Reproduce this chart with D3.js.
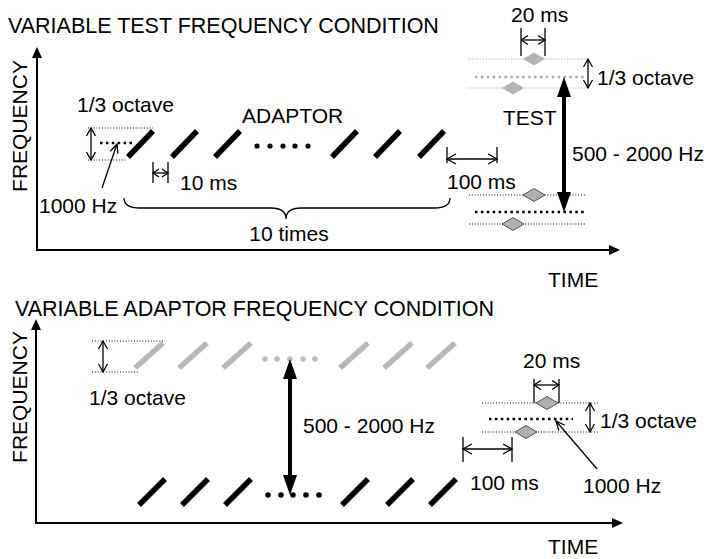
<!DOCTYPE html>
<html>
<head>
<meta charset="utf-8">
<script src="https://cdn.jsdelivr.net/npm/d3@7"></script>
<style>
  body { margin: 0; background: #fff; }
  text { font-family: "Liberation Sans", Arial, sans-serif; font-size: 21px; fill: #000; }
</style>
</head>
<body>
<script>
// >-----------------< Data >-------------------<
// time = offset from the frequency axis, freq = offset above the time axis (schematic units)
const titles = ["VARIABLE TEST FREQUENCY CONDITION", "VARIABLE ADAPTOR FREQUENCY CONDITION"];

// top panel: fixed 1000 Hz adaptor, variable test
const topBarOnsets = [89, 133, 176, 293, 336, 380];
const topBarDots = [220, 233, 246, 258, 271];
const topBarRange = [93, 119];          // low / high freq of each sweep
const topBarDotFreq = 104;
const topBand = [90, 107, 122];         // -1/6 oct, 1000 Hz, +1/6 oct
const topTestHigh = [162, 173, 191];    // test band at 2000 Hz end
const topTestLow = [26, 38, 55];        // test band at 500 Hz end
const topProbeTimes = [476, 497];

// bottom panel: variable adaptor, fixed 1000 Hz test
const botGrayOnsets = [97, 141, 185, 302, 346, 389];
const botGrayDots = [229, 241, 254, 267, 279];
const botGrayRange = [155, 180];
const botGrayDotFreq = 164;
const botGrayBand = [151, 182];
const botBlackOnsets = [101, 144, 187, 304, 349, 392];
const botBlackDots = [232, 245, 257, 270, 283];
const botBlackRange = [18, 44];
const botBlackDotFreq = 28;
const botTest = [91, 104, 120];
const botProbeTimes = [490, 511];

// >-----------------< Helpers >-------------------<
const ink = "#000";
const svg = d3.select("body").append("svg").attr("width", 705).attr("height", 559);

function seg(g, x1, y1, x2, y2, w, color, dash) {
  return g.append("line")
    .attr("x1", x1).attr("y1", y1).attr("x2", x2).attr("y2", y2)
    .attr("stroke", color || ink)
    .attr("stroke-width", w || 1.3)
    .attr("stroke-dasharray", dash || null);
}

function head(g, tx, ty, fx, fy, len, half, filled) {
  const d = Math.hypot(tx - fx, ty - fy), ux = (tx - fx) / d, uy = (ty - fy) / d;
  const bx = tx - ux * len, by = ty - uy * len;
  const pts = [[bx - uy * half, by + ux * half], [tx, ty], [bx + uy * half, by - ux * half]];
  if (filled) {
    g.append("path").attr("d", "M" + pts.join("L") + "Z").attr("fill", ink);
  } else {
    g.append("path").attr("d", "M" + pts.join("L"))
      .attr("fill", "none").attr("stroke", ink).attr("stroke-width", 1.3);
  }
}

function vArrow(g, x, y1, y2) {
  seg(g, x, y1, x, y2);
  head(g, x, y1, x, y2, 8, 4.5);
  head(g, x, y2, x, y1, 8, 4.5);
}

function span(g, x1, x2, y, tickA, tickB, len, half) {
  seg(g, x1, tickA, x1, tickB);
  seg(g, x2, tickA, x2, tickB);
  seg(g, x1, y, x2, y);
  head(g, x1, y, x2, y, len, half);
  head(g, x2, y, x1, y, len, half);
}

function bigArrow(g, x, y1, y2) {
  const s = Math.sign(y2 - y1);
  seg(g, x, y1 + s * 18, x, y2 - s * 18, 4);
  head(g, x, y1, x, y2, 20, 7, true);
  head(g, x, y2, x, y1, 20, 7, true);
}

function diamond(g, cx, cy, fill, stroke) {
  g.append("path")
    .attr("d", `M${cx - 11},${cy}L${cx},${cy - 6.5}L${cx + 11},${cy}L${cx},${cy + 6.5}Z`)
    .attr("fill", fill)
    .attr("stroke", stroke || "none")
    .attr("stroke-width", 0.8);
}

function label(g, x, y, s, anchor) {
  return g.append("text").attr("x", x).attr("y", y)
    .attr("text-anchor", anchor || "start").text(s);
}

function axes(g, x, y, tMax, fMax) {
  seg(g, x(0), y(0) + 1, x(0), y(fMax) + 9, 2);
  head(g, x(0), y(fMax), x(0), y(0), 11, 5, true);
  seg(g, x(0) - 1, y(0), x(tMax) - 9, y(0), 2);
  head(g, x(tMax), y(0), x(0), y(0), 11, 5, true);
}

function freqLabel(g, px, py) {
  g.append("text")
    .attr("transform", `translate(${px},${py}) rotate(-90)`)
    .attr("text-anchor", "middle")
    .text("FREQUENCY");
}

function dotted(g, x, y, f, t0, t1, color, bold) {
  seg(g, x(t0), y(f), x(t1), y(f), bold ? 2.5 : 1.1, color, bold ? "2.5 3.4" : "1 1.8");
}

function sweeps(g, x, y, onsets, range, dur, color) {
  onsets.forEach(t => seg(g, x(t + 2), y(range[0]), x(t + dur), y(range[1]), 5.5, color));
}

function dots(g, x, y, times, f, color, r) {
  g.selectAll(null).data(times).enter().append("circle")
    .attr("cx", d => x(d)).attr("cy", y(f)).attr("r", r).attr("fill", color);
}

// >-----------------< Top panel >-------------------<
const gt = svg.append("g");
const xt = d3.scaleLinear().domain([0, 583]).range([37, 620]);
const yt = d3.scaleLinear().domain([0, 203]).range([250, 47]);

label(gt, 8, 33, titles[0]).style("font-size", "21.5px");
axes(gt, xt, yt, 583, 203);
freqLabel(gt, xt(-10), yt(124));
label(gt, xt(511), yt(-37), "TIME");

// adaptor band reference
dotted(gt, xt, yt, topBand[2], 51, 116, ink);
dotted(gt, xt, yt, topBand[0], 51, 90, ink);
dotted(gt, xt, yt, topBand[1], 63, 96, ink, true);
vArrow(gt, xt(54), yt(topBand[0]), yt(topBand[2]));
label(gt, xt(40), yt(138), "1/3 octave");

sweeps(gt, xt, yt, topBarOnsets, topBarRange, 27, ink);
dots(gt, xt, yt, topBarDots, topBarDotFreq, ink, 2.6);
label(gt, xt(205), yt(127), "ADAPTOR");

// 1000 Hz pointer
seg(gt, xt(65), yt(62), xt(80), yt(106));
head(gt, xt(80), yt(106), xt(65), yt(62), 9, 4);
label(gt, xt(2), yt(37), "1000 Hz");

// 10 ms gap
span(gt, xt(116), xt(131), yt(77), yt(88), yt(67), 6, 4);
label(gt, xt(143), yt(60), "10 ms");

// brace
const br = d3.path();
br.moveTo(xt(87), yt(52));
br.quadraticCurveTo(xt(87), yt(42), xt(103), yt(42));
br.lineTo(xt(234), yt(42));
br.quadraticCurveTo(xt(249), yt(42), xt(249), yt(31));
br.quadraticCurveTo(xt(249), yt(42), xt(264), yt(42));
br.lineTo(xt(397), yt(42));
br.quadraticCurveTo(xt(413), yt(42), xt(413), yt(52));
gt.append("path").attr("d", br.toString()).attr("fill", "none").attr("stroke", ink).attr("stroke-width", 1.3);
label(gt, xt(252), yt(9), "10 times", "middle");

// 100 ms gap
span(gt, xt(410), xt(460), yt(91), yt(103), yt(87), 9, 5);
label(gt, xt(410), yt(61), "100 ms");

// test bands
dotted(gt, xt, yt, topTestHigh[2], 432, 550, "#9a9a9a");
dotted(gt, xt, yt, topTestHigh[0], 432, 550, "#9a9a9a");
dotted(gt, xt, yt, topTestHigh[1], 438, 550, "#ababab", true);
diamond(gt, xt(topProbeTimes[0]), yt(topTestHigh[0]), "#b5b5b5");
diamond(gt, xt(topProbeTimes[1]), yt(topTestHigh[2]), "#b5b5b5");

dotted(gt, xt, yt, topTestLow[2], 432, 548, ink);
dotted(gt, xt, yt, topTestLow[0], 432, 548, ink);
dotted(gt, xt, yt, topTestLow[1], 438, 548, ink, true);
diamond(gt, xt(topProbeTimes[0]), yt(topTestLow[0]), "#b0b0b0", "#333");
diamond(gt, xt(topProbeTimes[1]), yt(topTestLow[2]), "#b0b0b0", "#333");

span(gt, xt(484), xt(508), yt(210), yt(222), yt(194), 7, 4.5);
label(gt, xt(474), yt(228), "20 ms");
vArrow(gt, xt(551), yt(topTestHigh[0]), yt(topTestHigh[2]));
label(gt, xt(560), yt(165), "1/3 octave");
label(gt, xt(466), yt(125), "TEST");

bigArrow(gt, xt(527), yt(topTestHigh[1]), yt(topTestLow[1]));
label(gt, xt(535), yt(89), "500 - 2000 Hz");

// >-----------------< Bottom panel >-------------------<
const gb = svg.append("g");
const xb = d3.scaleLinear().domain([0, 587]).range([36, 623]);
const yb = d3.scaleLinear().domain([0, 204]).range([523, 319]);

label(gb, 15, 316, titles[1]).style("font-size", "21.5px");
axes(gb, xb, yb, 587, 204);
freqLabel(gb, xb(-9), yb(126));
label(gb, xb(512), yb(-31), "TIME");

// high adaptor (gray)
dotted(gb, xb, yb, botGrayBand[1], 56, 129, ink);
dotted(gb, xb, yb, botGrayBand[0], 56, 102, ink);
vArrow(gb, xb(67), yb(botGrayBand[0]), yb(botGrayBand[1]));
label(gb, xb(53), yb(118), "1/3 octave");
sweeps(gb, xb, yb, botGrayOnsets, botGrayRange, 30, "#b8b8b8");
dots(gb, xb, yb, botGrayDots, botGrayDotFreq, "#bdbdbd", 2.8);

// low adaptor (black)
sweeps(gb, xb, yb, botBlackOnsets, botBlackRange, 28, ink);
dots(gb, xb, yb, botBlackDots, botBlackDotFreq, ink, 2.8);

bigArrow(gb, xb(254), yb(botGrayDotFreq), yb(botBlackDotFreq));
label(gb, xb(267), yb(90), "500 - 2000 Hz");

// test band at 1000 Hz
dotted(gb, xb, yb, botTest[2], 446, 562, ink);
dotted(gb, xb, yb, botTest[0], 446, 562, ink);
dotted(gb, xb, yb, botTest[1], 453, 537, ink, true);
diamond(gb, xb(botProbeTimes[0]), yb(botTest[0]), "#b0b0b0", "#333");
diamond(gb, xb(botProbeTimes[1]), yb(botTest[2]), "#b0b0b0", "#333");

span(gb, xb(498), xb(523), yb(138), yb(144), yb(120), 7, 4.5);
label(gb, xb(487), yb(155), "20 ms");
vArrow(gb, xb(554), yb(botTest[0]), yb(botTest[2]));
label(gb, xb(564), yb(95), "1/3 octave");

seg(gb, xb(561), yb(54), xb(520), yb(102));
head(gb, xb(520), yb(102), xb(561), yb(54), 9, 4);
label(gb, xb(547), yb(30), "1000 Hz");

span(gb, xb(427), xb(476), yb(74), yb(86), yb(61), 9, 5);
label(gb, xb(434), yb(33), "100 ms");
</script>
</body>
</html>
